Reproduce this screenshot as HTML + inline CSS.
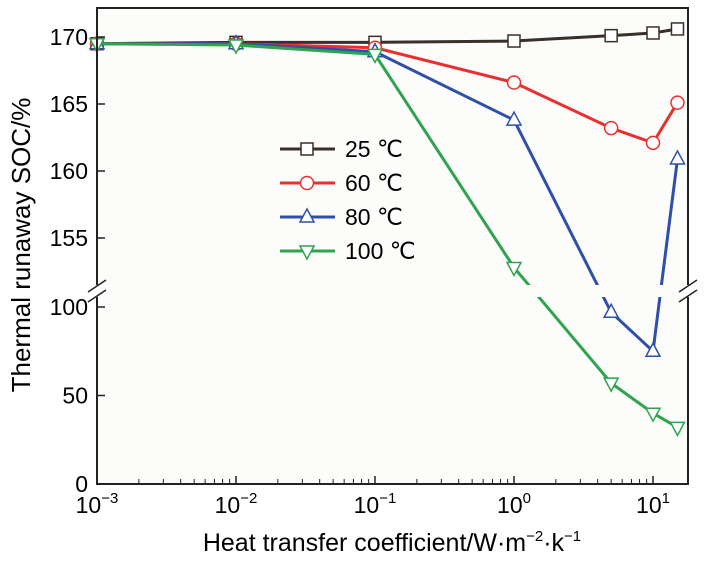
<!DOCTYPE html>
<html><head><meta charset="utf-8"><style>
body{margin:0;background:#fff;width:705px;height:559px;overflow:hidden}
text{font-family:"Liberation Sans",sans-serif}
</style></head><body>
<svg id="chart" width="705" height="559" xmlns="http://www.w3.org/2000/svg">
<rect x="97" y="8" width="591" height="476" fill="#fcfcfa" stroke="none"/>
<g id="lines"></g>
<rect x="98" y="285" width="589" height="12" fill="#fcfcfa"/>
<g id="axes"></g>
<g id="legend"></g>
<text transform="translate(30,245) rotate(-90)" text-anchor="middle" font-size="26">Thermal runaway SOC/%</text>
<text x="392" y="551" text-anchor="middle" font-size="25">Heat transfer coefficient/W·m<tspan font-size="15" dy="-10">−2</tspan><tspan dy="10">·k</tspan><tspan font-size="15" dy="-10">−1</tspan></text>
</svg>
<script>
const xValues=[0.001,0.01,0.1,1,5,10,15];
const seriesNames=["25 ℃","60 ℃","80 ℃","100 ℃"];
const s25=[169.5,169.6,169.6,169.7,170.1,170.3,170.6];
const s60=[169.5,169.5,169.2,166.6,163.2,162.1,165.1];
const s80=[169.5,169.5,168.9,163.8,97,75,160.9];
const s100=[169.5,169.4,168.7,152.8,57,40,32];
const upperTicks=[155,160,165,170];
const lowerTicks=[0,50,100];
const xTickExp=[-3,-2,-1,0,1];
const NS="http://www.w3.org/2000/svg";
function X(v){return 375+139*(Math.log10(v)+1);}
function Y(v){return v>=150?37-13.4*(v-170):484-1.77*v;}
function el(t,a,p){const e=document.createElementNS(NS,t);for(const k in a)e.setAttribute(k,a[k]);p.appendChild(e);return e;}
const colors=["#3a2f2b","#e8312f","#2f4fa8","#2fa34f"];
const data=[s25,s60,s80,s100];
const lines=document.getElementById('lines');
function marker(kind,x,y,c,p){
 if(kind==0){return el('rect',{x:x-6,y:y-6,width:12,height:12,fill:'#fff',stroke:c,'stroke-width':1.5},p);}
 if(kind==1){return el('circle',{cx:x,cy:y,r:6.5,fill:'#fff',stroke:c,'stroke-width':1.5},p);}
 if(kind==2){return el('polygon',{points:`${x},${y-8} ${x-7},${y+5} ${x+7},${y+5}`,fill:'#fff',stroke:c,'stroke-width':1.5},p);}
 return el('polygon',{points:`${x},${y+8} ${x-7},${y-5} ${x+7},${y-5}`,fill:'#fff',stroke:c,'stroke-width':1.5},p);
}
data.forEach((s,i)=>{
 const g=el('g',{},lines);
 
 
 const pts=s.map((v,j)=>X(xValues[j])+','+Y(v)).join(' ');
 const pl=el('polyline',{points:pts,fill:'none',stroke:colors[i],'stroke-width':3},g);
 
 
 s.forEach((v,j)=>{const m=marker(i,X(xValues[j]),Y(v),colors[i],g);
  
  });
});
const axes=document.getElementById('axes');
el('rect',{x:97,y:8,width:591,height:476,fill:'none',stroke:'#222','stroke-width':2},axes);
[97,688].forEach(x=>{
 el('rect',{x:x-3,y:285,width:6,height:12,fill:'#fff'},axes);
 el('line',{x1:x-9,y1:292,x2:x+9,y2:280,stroke:'#222','stroke-width':1.5},axes);
 el('line',{x1:x-9,y1:302,x2:x+9,y2:290,stroke:'#222','stroke-width':1.5},axes);
});
upperTicks.concat(lowerTicks).forEach(v=>{
 const y=Y(v);
 el('line',{x1:97,y1:y,x2:105,y2:y,stroke:'#222','stroke-width':1.5},axes);
 const t=el('text',{x:88,y:y+8,'text-anchor':'end','font-size':23},axes);t.textContent=v;
 
 
});
xTickExp.forEach(e=>{
 const x=X(Math.pow(10,e));
 el('line',{x1:x,y1:484,x2:x,y2:476,stroke:'#222','stroke-width':1.5},axes);
 const t=el('text',{x:x,y:513,'text-anchor':'middle','font-size':23},axes);
 t.innerHTML='10<tspan font-size="15" dy="-10">'+(e<0?'−'+(-e):e)+'</tspan>';
 
 
 for(let k=2;k<10;k++){const xm=X(k*Math.pow(10,e));if(xm<688)el('line',{x1:xm,y1:484,x2:xm,y2:479,stroke:'#222','stroke-width':1},axes);}
});
const lg=document.getElementById('legend');
seriesNames.forEach((n,i)=>{
 const y=149+34*i;
 el('line',{x1:280,y1:y,x2:335,y2:y,stroke:colors[i],'stroke-width':3},lg);
 marker(i,307,y,colors[i],lg);
 const t=el('text',{x:345,y:y+8,'font-size':23},lg);t.textContent=n;
 
 
});
</script>
</body></html>
